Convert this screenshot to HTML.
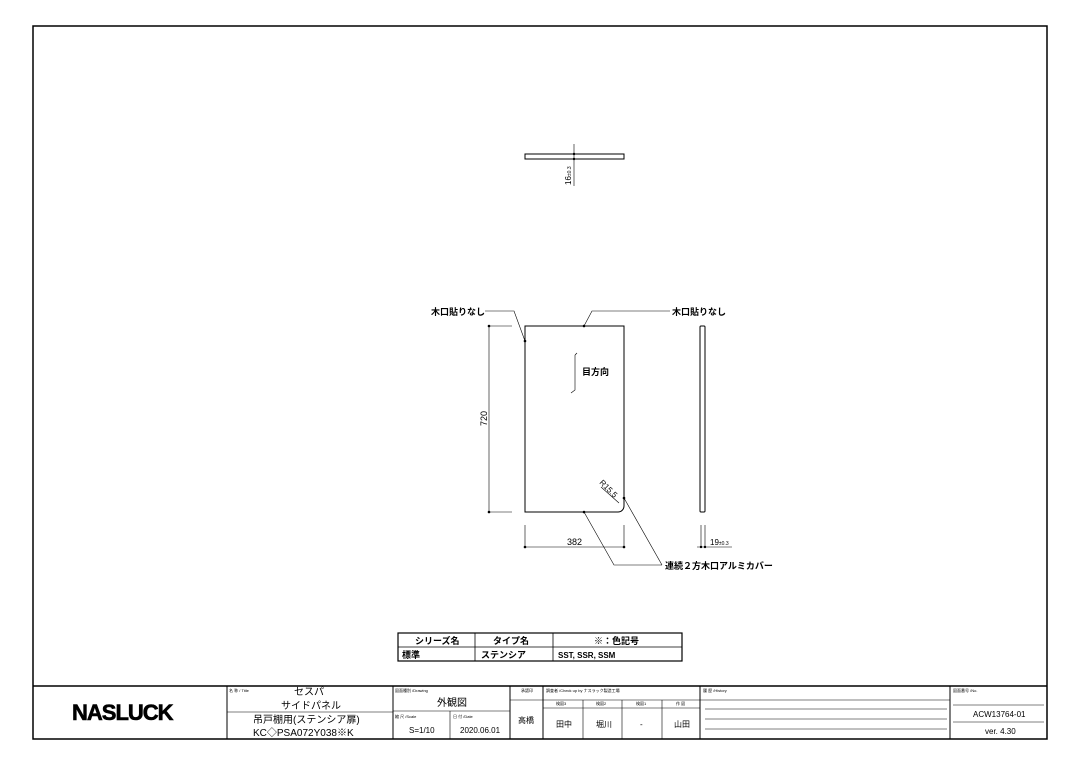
<!DOCTYPE html>
<html><head><meta charset="utf-8"><style>
body{margin:0;background:#fff}
svg{display:block}
text{font-family:"Liberation Sans","Noto Sans CJK JP",sans-serif;fill:#000}
</style></head><body>
<svg width="1080" height="764" viewBox="0 0 1080 764" xmlns="http://www.w3.org/2000/svg">
<rect x="33" y="26" width="1014" height="713" fill="none" stroke="#000" stroke-width="1.5"/>
<!-- top view -->
<rect x="525" y="154" width="99" height="5" fill="none" stroke="#000" stroke-width="1"/>
<line x1="574" y1="144" x2="574" y2="186" stroke="#000" stroke-width="0.6"/>
<circle cx="574" cy="154" r="1.2"/><circle cx="574" cy="159" r="1.2"/>
<text transform="translate(571,185) rotate(-90)" font-size="8">16<tspan font-size="5">±0.3</tspan></text>
<!-- front panel -->
<path d="M525 326 H624 V506 A6 6 0 0 1 618 512 H525 Z" fill="none" stroke="#000" stroke-width="1"/>
<g stroke="#000" stroke-width="0.6" fill="none">
<line x1="488" y1="326" x2="512" y2="326"/><line x1="488" y1="512" x2="512" y2="512"/>
<line x1="489" y1="326" x2="489" y2="512"/>
<line x1="525" y1="525" x2="525" y2="548"/><line x1="624" y1="525" x2="624" y2="548"/>
<line x1="525" y1="547" x2="624" y2="547"/>
<polyline points="485,311 514,311 525,341"/>
<polyline points="584,326 592,311 670,311"/>
<polyline points="584,512 614,565 662,565"/>
<polyline points="624,498 662,565"/>
<line x1="601" y1="487" x2="619" y2="503"/>
<polyline points="575,355 575,390 571,393"/>
<polyline points="575,355 577,353"/>
<line x1="701" y1="525" x2="701" y2="548"/><line x1="705" y1="525" x2="705" y2="548"/>
<line x1="697" y1="547" x2="732" y2="547"/>
</g>
<g fill="#000"><circle cx="489" cy="326" r="1.3"/><circle cx="489" cy="512" r="1.3"/>
<circle cx="525" cy="547" r="1.3"/><circle cx="624" cy="547" r="1.3"/>
<circle cx="525" cy="341" r="1.3"/><circle cx="584" cy="326" r="1.3"/><circle cx="584" cy="512" r="1.3"/><circle cx="624" cy="498" r="1.3"/>
<circle cx="701" cy="547" r="1.2"/><circle cx="705" cy="547" r="1.2"/></g>
<rect x="700" y="326" width="5" height="186" rx="1" fill="none" stroke="#000" stroke-width="1"/>
<text x="431" y="315" font-size="9" font-weight="bold">木口貼りなし</text>
<text x="672" y="315" font-size="9" font-weight="bold">木口貼りなし</text>
<text x="582" y="375" font-size="9" font-weight="bold">目方向</text>
<text transform="translate(487,426) rotate(-90)" font-size="9">720</text>
<text x="567" y="545" font-size="9">382</text>
<text x="710" y="545" font-size="8">19<tspan font-size="5">±0.3</tspan></text>
<text transform="translate(599,483) rotate(45)" font-size="8">R15.5</text>
<text x="665" y="569" font-size="9" font-weight="bold">連続２方木口アルミカバー</text>
<!-- series table -->
<g stroke="#000" fill="none"><rect x="398" y="633" width="284" height="28" stroke-width="1.2"/>
<line x1="398" y1="647" x2="682" y2="647" stroke-width="0.8"/>
<line x1="475" y1="633" x2="475" y2="661" stroke-width="0.8"/>
<line x1="553" y1="633" x2="553" y2="661" stroke-width="0.8"/></g>
<text x="415" y="644" font-size="9" font-weight="bold">シリーズ名</text>
<text x="493" y="644" font-size="9" font-weight="bold">タイプ名</text>
<text x="594" y="644" font-size="9" font-weight="bold">※：色記号</text>
<text x="402" y="658" font-size="9" font-weight="bold">標準</text>
<text x="481" y="658" font-size="9" font-weight="bold">ステンシア</text>
<text x="558" y="658" font-size="8" font-weight="bold">SST, SSR, SSM</text>
<!-- title block -->
<g stroke="#000" fill="none" stroke-width="1">
<line x1="33" y1="686" x2="1047" y2="686" stroke-width="1.5"/>
<line x1="227" y1="686" x2="227" y2="739"/><line x1="393" y1="686" x2="393" y2="739"/>
<line x1="510" y1="686" x2="510" y2="739"/><line x1="543" y1="686" x2="543" y2="739"/>
<line x1="700" y1="686" x2="700" y2="739"/><line x1="950" y1="686" x2="950" y2="739"/>
<line x1="227" y1="712" x2="393" y2="712" stroke-width="0.6"/>
<line x1="393" y1="711" x2="510" y2="711" stroke-width="0.6"/>
<line x1="450" y1="711" x2="450" y2="739" stroke-width="0.6"/>
<line x1="510" y1="700" x2="700" y2="700" stroke-width="0.6"/>
<line x1="543" y1="708" x2="700" y2="708" stroke-width="0.6"/>
<line x1="583" y1="700" x2="583" y2="739" stroke-width="0.6"/>
<line x1="622" y1="700" x2="622" y2="739" stroke-width="0.6"/>
<line x1="662" y1="700" x2="662" y2="739" stroke-width="0.6"/>
<line x1="700" y1="700" x2="950" y2="700" stroke-width="0.6"/>
<line x1="705" y1="709" x2="947" y2="709" stroke-width="0.5"/>
<line x1="705" y1="719" x2="947" y2="719" stroke-width="0.5"/>
<line x1="705" y1="729" x2="947" y2="729" stroke-width="0.5"/>
<line x1="953" y1="705" x2="1044" y2="705" stroke-width="0.5"/>
<line x1="953" y1="722" x2="1044" y2="722" stroke-width="0.5"/>
</g>
<text x="72" y="720" font-size="22" font-weight="bold" letter-spacing="-1" stroke="#000" stroke-width="0.6">NASLUCK</text>
<text x="229" y="692" font-size="4">名 称 / Title</text>
<text x="294" y="695" font-size="10">セスパ</text>
<text x="281" y="709" font-size="10">サイドパネル</text>
<text x="253" y="723" font-size="10">吊戸棚用(ステンシア扉)</text>
<text x="253" y="736" font-size="10">KC◇PSA072Y038※K</text>
<text x="395" y="692" font-size="4">図面種別 /Drawing</text>
<text x="437" y="706" font-size="10">外観図</text>
<text x="395" y="718" font-size="4">縮 尺 /Scale</text>
<text x="409" y="733" font-size="8">S=1/10</text>
<text x="453" y="718" font-size="4">日 付 /Date</text>
<text x="460" y="733" font-size="8">2020.06.01</text>
<text x="521" y="692" font-size="4">承認印</text>
<text x="518" y="723" font-size="8">高橋</text>
<text x="546" y="692" font-size="4">調査者 /Check up by ナスラック製造工場</text>
<text x="556" y="705" font-size="4">検図3</text><text x="596" y="705" font-size="4">検図2</text>
<text x="636" y="705" font-size="4">検図1</text><text x="676" y="705" font-size="4">作 図</text>
<text x="556" y="727" font-size="8">田中</text><text x="596" y="727" font-size="8">堀川</text>
<text x="640" y="727" font-size="8">-</text><text x="674" y="727" font-size="8">山田</text>
<text x="703" y="692" font-size="4">履 歴 /History</text>
<text x="953" y="692" font-size="4">図面番号 /No.</text>
<text x="973" y="717" font-size="8">ACW13764-01</text>
<text x="985" y="734" font-size="8">ver. 4.30</text>
</svg>
</body></html>
